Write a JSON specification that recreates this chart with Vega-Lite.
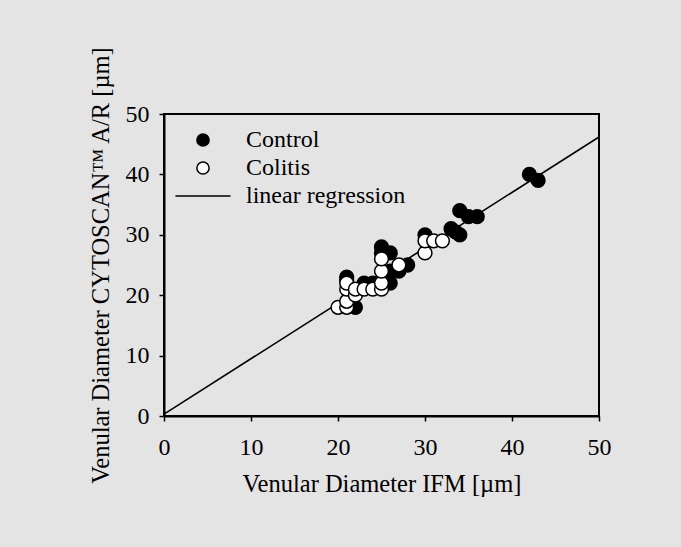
{
  "$schema": "https://vega.github.io/schema/vega-lite/v6.json",
  "autosize": "none",
  "padding": {"left": 164, "top": 114, "right": 82, "bottom": 131},
  "width": 435,
  "height": 302,
  "background": "#e4e4e4",
  "config": {
    "font": "Liberation Serif",
    "view": {"stroke": "black", "strokeWidth": 2},
    "axis": {
      "domainColor": "black", "domainWidth": 2, "tickColor": "black", "tickWidth": 1.5, "tickSize": 5,
      "labelFont": "Liberation Serif", "labelFontSize": 24, "labelColor": "black", "labelFlush": false,
      "titleFont": "Liberation Serif", "titleFontSize": 24.5, "titleFontWeight": "normal", "titleColor": "black",
      "grid": false
    }
  },
  "layer": [
    {
      "data": {"values": [
        {"x": 0, "y": 0.3},
        {"x": 50, "y": 46.2}
      ]},
      "mark": {"type": "line", "color": "black", "strokeWidth": 1.6, "clip": true},
      "encoding": {
        "x": {"field": "x", "type": "quantitative", "scale": {"domain": [0, 50]},
          "axis": {"values": [0, 10, 20, 30, 40, 50], "title": "Venular Diameter IFM [µm]", "titlePadding": 13, "labelPadding": 14}},
        "y": {"field": "y", "type": "quantitative", "scale": {"domain": [0, 50]},
          "axis": {"values": [0, 10, 20, 30, 40, 50], "title": "Venular Diameter CYTOSCAN™ A/R [µm]", "titlePadding": 12, "labelPadding": 10}}
      }
    },
    {
      "data": {"values": [
        {"group": "Control", "x": 21, "y": 23},
        {"group": "Control", "x": 21, "y": 22.5},
        {"group": "Control", "x": 22, "y": 18},
        {"group": "Control", "x": 23, "y": 22},
        {"group": "Control", "x": 24, "y": 22},
        {"group": "Control", "x": 25, "y": 28},
        {"group": "Control", "x": 25, "y": 27},
        {"group": "Control", "x": 26, "y": 27},
        {"group": "Control", "x": 26, "y": 22},
        {"group": "Control", "x": 26, "y": 24},
        {"group": "Control", "x": 27, "y": 24},
        {"group": "Control", "x": 28, "y": 25},
        {"group": "Control", "x": 30, "y": 30},
        {"group": "Control", "x": 33, "y": 31},
        {"group": "Control", "x": 33.5, "y": 30.5},
        {"group": "Control", "x": 34, "y": 34},
        {"group": "Control", "x": 34, "y": 30},
        {"group": "Control", "x": 35, "y": 33},
        {"group": "Control", "x": 36, "y": 33},
        {"group": "Control", "x": 42, "y": 40},
        {"group": "Control", "x": 43, "y": 39},
        {"group": "Colitis", "x": 20, "y": 18},
        {"group": "Colitis", "x": 21, "y": 18},
        {"group": "Colitis", "x": 21, "y": 19},
        {"group": "Colitis", "x": 21, "y": 21},
        {"group": "Colitis", "x": 21, "y": 22},
        {"group": "Colitis", "x": 22, "y": 20},
        {"group": "Colitis", "x": 22, "y": 21},
        {"group": "Colitis", "x": 23, "y": 21},
        {"group": "Colitis", "x": 24, "y": 21},
        {"group": "Colitis", "x": 25, "y": 21},
        {"group": "Colitis", "x": 25, "y": 22},
        {"group": "Colitis", "x": 25, "y": 24},
        {"group": "Colitis", "x": 25, "y": 26},
        {"group": "Colitis", "x": 27, "y": 25},
        {"group": "Colitis", "x": 30, "y": 27},
        {"group": "Colitis", "x": 30, "y": 29},
        {"group": "Colitis", "x": 31, "y": 29},
        {"group": "Colitis", "x": 32, "y": 29}
      ]},
      "mark": {"type": "point", "strokeWidth": 1.5, "opacity": 1, "size": 190},
      "encoding": {
        "x": {"field": "x", "type": "quantitative"},
        "y": {"field": "y", "type": "quantitative"},
        "shape": {"field": "group", "type": "nominal",
          "scale": {"domain": ["Control", "Colitis", "linear regression"], "range": ["circle", "circle", "M-4.5,0L4.5,0"]},
          "legend": {
            "title": null, "orient": "none", "legendX": 27, "legendY": 14,
            "labelFont": "Liberation Serif", "labelFontSize": 24, "labelColor": "black",
            "symbolSize": 150, "symbolStrokeWidth": 1.5,
            "labelOffset": 31, "rowPadding": 4, "padding": 0, "symbolOpacity": 1
          }},
        "fill": {"field": "group", "type": "nominal",
          "scale": {"domain": ["Control", "Colitis", "linear regression"], "range": ["black", "white", "black"]}},
        "stroke": {"field": "group", "type": "nominal",
          "scale": {"domain": ["Control", "Colitis", "linear regression"], "range": ["black", "black", "black"]}}
      }
    }
  ]
}
